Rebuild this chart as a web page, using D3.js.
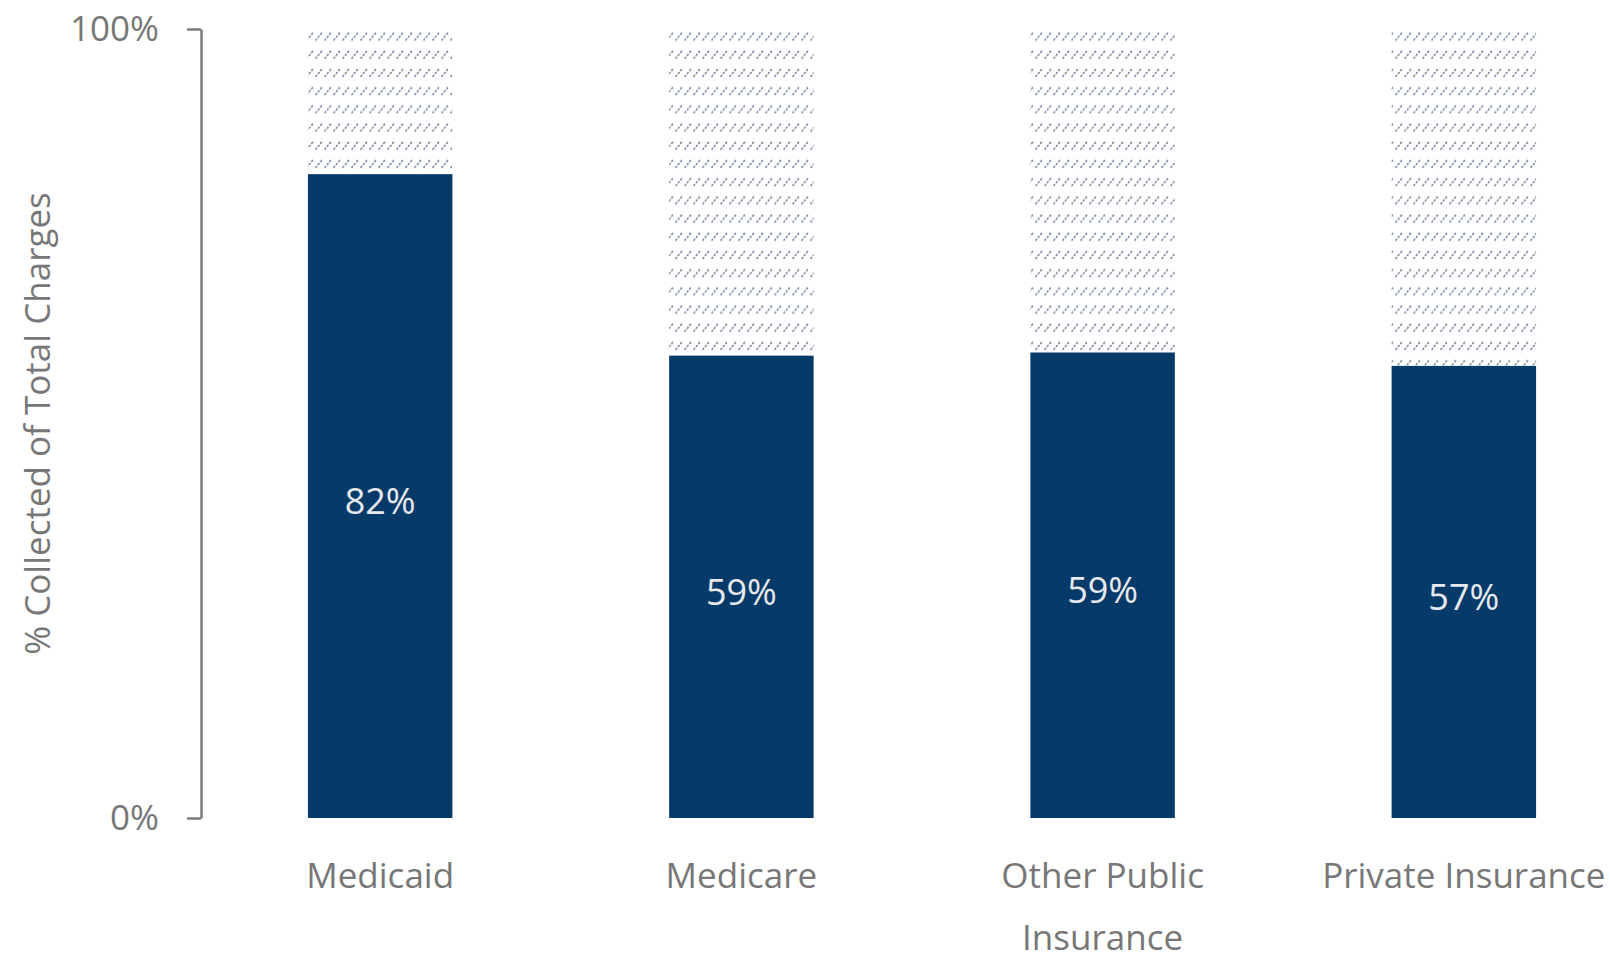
<!DOCTYPE html>
<html>
<head>
<meta charset="utf-8">
<script src="https://cdn.jsdelivr.net/npm/d3@7"></script>
<style>
  html, body { margin: 0; padding: 0; background: #fff; }
  svg { display: block; font-family: "Open Sans", "Noto Sans", sans-serif; }
</style>
</head>
<body>
<div id="chart"></div>
<script>
// chart data
var categories = ["Medicaid", "Medicare", "Other Public Insurance", "Private Insurance"];
var categoryLines = [["Medicaid"], ["Medicare"], ["Other Public", "Insurance"], ["Private Insurance"]];
var collected = [0.816, 0.586, 0.590, 0.573];
var yTicks = [0, 1];

var width = 1610, height = 959;

var svg = d3.select("#chart").append("svg")
    .attr("width", width)
    .attr("height", height);

// hatch pattern for the uncollected part of each bar
var defs = svg.append("defs");
var pat = defs.append("pattern")
    .attr("id", "hatch")
    .attr("patternUnits", "userSpaceOnUse")
    .attr("width", 9)
    .attr("height", 18.2)
    .attr("y", 29);
pat.append("line")
    .attr("x1", 0.5).attr("y1", 11.5)
    .attr("x2", 7.5).attr("y2", 3)
    .attr("stroke", "#7d8ca3")
    .attr("stroke-width", 1.6)
    .attr("stroke-dasharray", "2.5 1.3");

var x = d3.scaleBand()
    .domain(categories)
    .range([201, 1643])
    .paddingInner(0.6)
    .paddingOuter(0.296);

var y = d3.scaleLinear()
    .domain([0, 1])
    .range([818, 29]);

// hatched remainder up to 100%
svg.append("g").selectAll("rect.rest")
    .data(categories)
    .join("rect")
    .attr("class", "rest")
    .attr("x", function(d) { return x(d); })
    .attr("width", x.bandwidth())
    .attr("y", y(1))
    .attr("height", function(d, i) { return y(collected[i]) - y(1); })
    .attr("fill", "url(#hatch)");

// collected bars
svg.append("g").selectAll("rect.bar")
    .data(categories)
    .join("rect")
    .attr("class", "bar")
    .attr("x", function(d) { return x(d); })
    .attr("width", x.bandwidth())
    .attr("y", function(d, i) { return y(collected[i]); })
    .attr("height", function(d, i) { return y(0) - y(collected[i]); })
    .attr("fill", "#063a68");

// value labels in the middle of each bar
var fmt = d3.format(".0%");
svg.append("g").selectAll("text")
    .data(categories)
    .join("text")
    .attr("x", function(d) { return x(d) + x.bandwidth() / 2; })
    .attr("y", function(d, i) { return (y(collected[i]) + y(0)) / 2; })
    .attr("dy", "0.5em")
    .attr("text-anchor", "middle")
    .attr("fill", "#e6e9ee")
    .attr("font-size", 36)
    .text(function(d, i) { return fmt(collected[i]); });

// y axis, only 0% and 100%
var yAxis = svg.append("g")
    .attr("transform", "translate(201,0)")
    .call(d3.axisLeft(y).tickValues(yTicks).tickSize(14).tickSizeOuter(0).tickPadding(28).tickFormat(fmt));
yAxis.select(".domain").attr("stroke", "#7c7c7c").attr("stroke-width", 2.5);
yAxis.selectAll(".tick line").attr("stroke", "#7c7c7c").attr("stroke-width", 2.5);
yAxis.selectAll(".tick text")
    .attr("fill", "#777")
    .attr("font-size", 35)
    .attr("font-family", "Open Sans, Noto Sans, sans-serif");

// y axis title
svg.append("text")
    .attr("transform", "translate(38," + ((y(0) + y(1)) / 2) + ") rotate(-90)")
    .attr("dy", "0.35em")
    .attr("text-anchor", "middle")
    .attr("fill", "#777")
    .attr("font-size", 35)
    .text("% Collected of Total Charges");

// category labels under the bars
var cat = svg.append("g").selectAll("text")
    .data(categories)
    .join("text")
    .attr("x", function(d) { return x(d) + x.bandwidth() / 2; })
    .attr("y", 888)
    .attr("text-anchor", "middle")
    .attr("fill", "#777")
    .attr("font-size", 35);
cat.each(function(d, i) {
    d3.select(this).selectAll("tspan")
        .data(categoryLines[i])
        .join("tspan")
        .attr("x", x(d) + x.bandwidth() / 2)
        .attr("dy", function(t, j) { return j ? 62 : 0; })
        .text(function(t) { return t; });
});
</script>
</body>
</html>
